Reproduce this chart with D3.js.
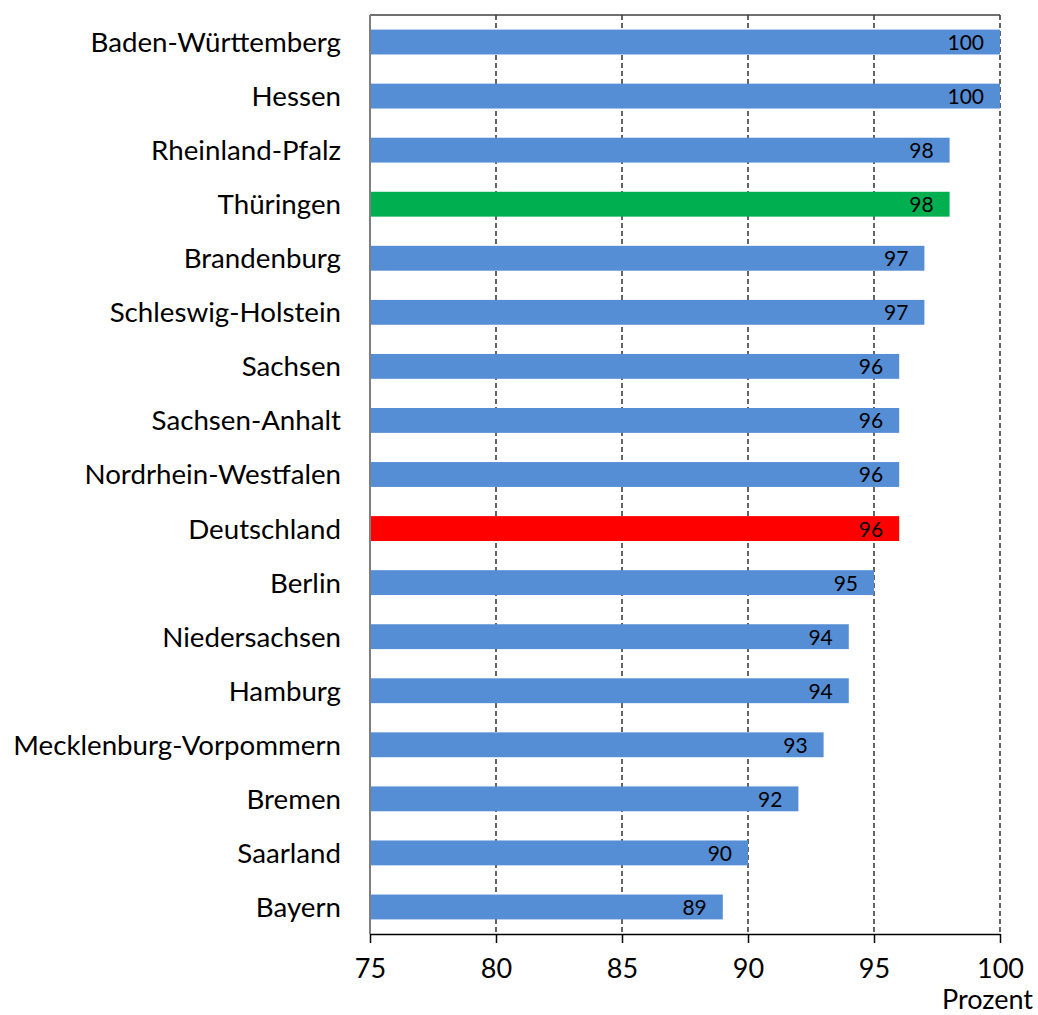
<!DOCTYPE html>
<html>
<head>
<meta charset="utf-8">
<script src="https://cdn.jsdelivr.net/npm/d3@7"></script>
<style>
  body { margin: 0; background: #fff; }
  text { font-family: Lato, "Open Sans", sans-serif; fill: #000; }
</style>
</head>
<body>
<div id="chart"></div>
<script>
// Data, top to bottom
var laender = ["Baden-Württemberg", "Hessen", "Rheinland-Pfalz", "Thüringen", "Brandenburg",
  "Schleswig-Holstein", "Sachsen", "Sachsen-Anhalt", "Nordrhein-Westfalen", "Deutschland",
  "Berlin", "Niedersachsen", "Hamburg", "Mecklenburg-Vorpommern", "Bremen", "Saarland", "Bayern"];
var prozent = [100, 100, 98, 98, 97, 97, 96, 96, 96, 96, 95, 94, 94, 93, 92, 90, 89];
var xTicks = [75, 80, 85, 90, 95, 100];

var width = 1038, height = 1015;
var margin = {top: 15, right: 38, bottom: 81, left: 370};
var plotW = width - margin.left - margin.right;
var plotH = height - margin.top - margin.bottom;

// colour per bar: Thüringen green, Deutschland red, rest blue
function barColor(name) {
  if (name === "Thüringen") return "#00b050";
  if (name === "Deutschland") return "#ff0000";
  return "#558ed5";
}

var svg = d3.select("#chart").append("svg")
  .attr("width", width)
  .attr("height", height)
  .append("g")
  .attr("transform", "translate(" + margin.left + "," + margin.top + ")");

var x = d3.scaleLinear().domain([75, 100]).range([0, plotW]);
var y = d3.scaleBand().domain(laender).range([0, plotH]).paddingInner(0.54).paddingOuter(0.27);

// dashed gridlines
svg.selectAll(".grid")
  .data(xTicks.slice(1))
  .enter().append("line")
  .attr("x1", function(d) { return x(d); })
  .attr("x2", function(d) { return x(d); })
  .attr("y1", 0)
  .attr("y2", plotH)
  .style("stroke", "#000")
  .style("stroke-width", 1.2)
  .style("stroke-dasharray", "5,3");

// top border
svg.append("line")
  .attr("x1", 0).attr("x2", plotW)
  .attr("y1", 0).attr("y2", 0)
  .style("stroke", "#404040")
  .style("stroke-width", 1.5);

// bars
svg.selectAll(".bar")
  .data(laender)
  .enter().append("rect")
  .attr("x", x(75))
  .attr("y", function(d) { return y(d); })
  .attr("width", function(d, i) { return x(prozent[i]) - x(75); })
  .attr("height", y.bandwidth())
  .style("fill", function(d) { return barColor(d); });

// value labels inside bar ends
svg.selectAll(".val")
  .data(laender)
  .enter().append("text")
  .attr("x", function(d, i) { return x(prozent[i]) - 16; })
  .attr("y", function(d) { return y(d) + y.bandwidth() / 2; })
  .attr("dy", "0.38em")
  .attr("text-anchor", "end")
  .style("font-size", "21px")
  .text(function(d, i) { return prozent[i]; });

// category labels
svg.selectAll(".cat")
  .data(laender)
  .enter().append("text")
  .attr("x", -29)
  .attr("y", function(d) { return y(d) + y.bandwidth() / 2; })
  .attr("dy", "0.36em")
  .attr("text-anchor", "end")
  .style("font-size", "27.7px")
  .text(function(d) { return d; });

// left axis line
svg.append("line")
  .attr("x1", 0).attr("x2", 0)
  .attr("y1", 0).attr("y2", plotH)
  .style("stroke", "#7f7f7f")
  .style("stroke-width", 2);

// bottom axis
var xAxis = svg.append("g")
  .attr("transform", "translate(0," + plotH + ")")
  .call(d3.axisBottom(x).tickValues(xTicks).tickSize(9).tickPadding(16).tickSizeOuter(0));
xAxis.select(".domain").style("stroke", "#000").style("stroke-width", 1.5);
xAxis.selectAll(".tick line").style("stroke", "#000").style("stroke-width", 1.5);
xAxis.selectAll(".tick text")
  .style("font-family", "Lato, 'Open Sans', sans-serif")
  .style("font-size", "27px");

svg.append("text")
  .attr("x", plotW + 33)
  .attr("y", plotH + 75)
  .attr("text-anchor", "end")
  .style("font-size", "27px")
  .text("Prozent");
</script>
</body>
</html>
